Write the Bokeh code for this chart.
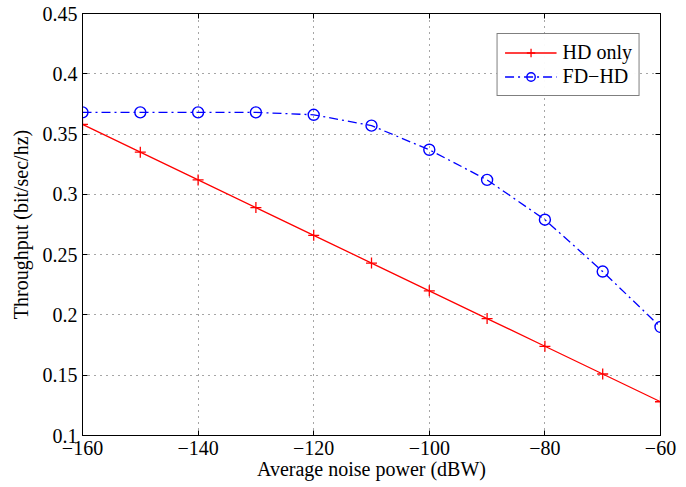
from bokeh.plotting import figure
from bokeh.models import LinearAxis, FixedTicker, Range1d, Legend, LegendItem
from bokeh.embed import file_html
from bokeh.resources import INLINE

noise_dbw = [-160, -150, -140, -130, -120, -110, -100, -90, -80, -70, -60]
hd_only = [0.358, 0.335, 0.312, 0.289, 0.266, 0.243, 0.220, 0.197, 0.174, 0.151, 0.128]
fd_hd = [0.368, 0.368, 0.368, 0.368, 0.366, 0.357, 0.337, 0.312, 0.279, 0.236, 0.190]
x_ticks = [-160, -140, -120, -100, -80, -60]
y_ticks = [0.1, 0.15, 0.2, 0.25, 0.3, 0.35, 0.4, 0.45]
y_tick_labels = ["0.1", "0.15", "0.2", "0.25", "0.3", "0.35", "0.4", "0.45"]

FONT = "Liberation Serif"

p = figure(width=686, height=487, output_backend="svg", toolbar_location=None,
           x_range=Range1d(-160, -60), y_range=Range1d(0.1, 0.45),
           min_border_left=82, min_border_right=26, min_border_top=13, min_border_bottom=52)
p.background_fill_color = "white"
p.border_fill_color = "white"
p.outline_line_color = "black"
p.outline_line_width = 1

for ax in (p.xaxis[0], p.yaxis[0]):
    ax.major_tick_in = 5
    ax.major_tick_out = 0
    ax.minor_tick_line_color = None
    ax.axis_line_color = "black"
    ax.major_label_text_font = FONT
    ax.major_label_text_font_size = "20px"
    ax.major_label_text_color = "black"
    ax.axis_label_text_font = FONT
    ax.axis_label_text_font_style = "normal"
    ax.axis_label_text_color = "black"
    ax.axis_label_text_font_size = "20px"

p.xaxis[0].ticker = FixedTicker(ticks=x_ticks)
p.yaxis[0].ticker = FixedTicker(ticks=y_ticks)
p.xaxis[0].major_label_overrides = {t: "\u2212" + str(abs(t)) for t in x_ticks}
p.yaxis[0].major_label_overrides = dict(zip(y_ticks, y_tick_labels))
p.xaxis[0].axis_label = "Average noise power (dBW)"
p.yaxis[0].axis_label = "Throughput (bit/sec/hz)"
p.xaxis[0].axis_label_standoff = 0
p.yaxis[0].axis_label_standoff = 8
p.xaxis[0].major_label_standoff = 5
p.yaxis[0].major_label_standoff = 5

# mirrored box axes with inward ticks, no labels
ax_r = LinearAxis(ticker=FixedTicker(ticks=y_ticks), major_tick_in=5, major_tick_out=0,
                  minor_tick_line_color=None, major_label_standoff=0,
                  major_label_overrides={t: "" for t in y_ticks})
ax_t = LinearAxis(ticker=FixedTicker(ticks=x_ticks), major_tick_in=5, major_tick_out=0,
                  minor_tick_line_color=None, major_label_standoff=0,
                  major_label_overrides={t: "" for t in x_ticks})
p.add_layout(ax_r, "right")
p.add_layout(ax_t, "above")

p.xgrid.ticker = FixedTicker(ticks=x_ticks)
p.ygrid.ticker = FixedTicker(ticks=y_ticks)
for g in (p.xgrid[0], p.ygrid[0]):
    g.grid_line_color = "black"
    g.grid_line_dash = "1 5"
    g.grid_line_alpha = 0.7
    g.grid_line_width = 1

l1 = p.line(noise_dbw, hd_only, line_color="red", line_width=1.3)
s1 = p.scatter(noise_dbw, hd_only, marker="cross", size=11, line_color="red", line_width=1.3)
l2 = p.line(noise_dbw, fd_hd, line_color="blue", line_width=1.3, line_dash="9 4 2 4")
s2 = p.scatter(noise_dbw, fd_hd, marker="circle", size=11, line_color="blue",
               fill_color=None, line_width=1.4)

legend = Legend(items=[LegendItem(label="HD only", renderers=[l1, s1]),
                       LegendItem(label="FD\u2212HD", renderers=[l2, s2])],
                location="top_right")
legend.label_text_font = FONT
legend.label_text_font_size = "20px"
legend.label_text_color = "black"
legend.border_line_color = "black"
legend.border_line_width = 1
legend.glyph_width = 52
legend.glyph_height = 21
legend.label_height = 21
legend.spacing = 1
legend.padding = 7
legend.margin = 20
legend.label_standoff = 6
p.add_layout(legend, "center")

open("out.html", "w").write(file_html(p, INLINE))
